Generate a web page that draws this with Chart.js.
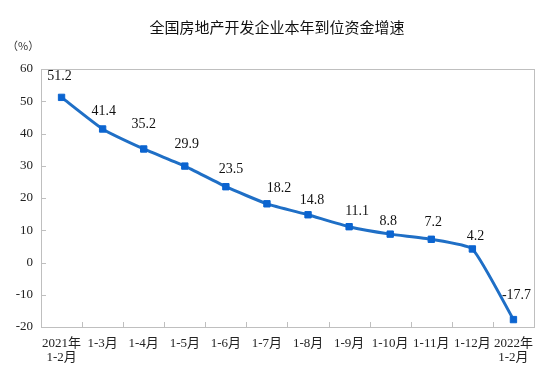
<!DOCTYPE html>
<html>
<head>
<meta charset="utf-8">
<script src="https://cdn.jsdelivr.net/npm/chart.js@4/dist/chart.umd.min.js"></script>
<style>
html,body{margin:0;padding:0;background:#fff;}
#wrap{width:554px;height:390px;position:relative;}
</style>
</head>
<body>
<div id="wrap"><canvas id="c" width="554" height="390"></canvas></div>
<script>
// ---- data ----
const categories = [["2021年","1-2月"],"1-3月","1-4月","1-5月","1-6月","1-7月","1-8月","1-9月","1-10月","1-11月","1-12月",["2022年","1-2月"]];
const growth = [51.2, 41.4, 35.2, 29.9, 23.5, 18.2, 14.8, 11.1, 8.8, 7.2, 4.2, -17.7];
const valueLabels = ["51.2","41.4","35.2","29.9","23.5","18.2","14.8","11.1","8.8","7.2","4.2","-17.7"];
const yTicks = [-20, -10, 0, 10, 20, 30, 40, 50, 60];
const chartTitle = "全国房地产开发企业本年到位资金增速";
const unitLabel = "（%）";
// label placement offsets (dx, dy) relative to each point
const labelDx = [-2, 1, 0, 2, 5, 12, 4, 8, -2, 2, 3, 3];
const labelDy = [-21, -18, -25, -22, -17, -15, -14, -15, -13, -17, -13, -24];

const AXIS_COLOR = '#bfbfbf';
const SERIF = '"Liberation Serif", "Noto Sans CJK SC", serif';

const framePlugin = {
  id: 'frame',
  beforeDatasetsDraw(chart) {
    const {ctx, chartArea: a, scales} = chart;
    ctx.save();
    ctx.strokeStyle = AXIS_COLOR;
    ctx.lineWidth = 1;
    ctx.strokeRect(Math.round(a.left) + 0.5, Math.round(a.top) + 0.5, Math.round(a.right - a.left), Math.round(a.bottom - a.top));
    // y ticks inward
    const ys = scales.y;
    ctx.beginPath();
    yTicks.forEach(v => {
      const py = Math.round(ys.getPixelForValue(v)) + 0.5;
      ctx.moveTo(a.left, py); ctx.lineTo(a.left + 5, py);
    });
    // x ticks inward at category boundaries
    const xs = scales.x;
    const n = categories.length;
    const w = (a.right - a.left) / n;
    for (let i = 1; i < n; i++) {
      const px = Math.round(xs.getPixelForValue(i) - w / 2) + 0.5;
      ctx.moveTo(px, a.bottom); ctx.lineTo(px, a.bottom - 5);
    }
    ctx.stroke();
    ctx.restore();
  },
  afterDraw(chart) {
    const {ctx} = chart;
    ctx.save();
    ctx.fillStyle = '#111';
    ctx.textAlign = 'center';
    ctx.textBaseline = 'middle';
    ctx.font = '15px "Noto Sans CJK SC", sans-serif';
    ctx.fillText(chartTitle, 277, 27);
    ctx.font = '11px "Noto Sans CJK SC", sans-serif';
    ctx.textAlign = 'left';
    ctx.fillStyle = '#333';
    ctx.fillText(unitLabel, 7, 46);
    // value labels
    const meta = chart.getDatasetMeta(0);
    ctx.font = '14px ' + SERIF;
    ctx.fillStyle = '#111';
    ctx.textAlign = 'center';
    meta.data.forEach((pt, i) => {
      ctx.fillText(valueLabels[i], pt.x + labelDx[i], pt.y + labelDy[i]);
    });
    ctx.restore();
  }
};

new Chart(document.getElementById('c'), {
  type: 'line',
  data: {
    labels: categories,
    datasets: [{
      data: growth,
      borderColor: '#1f6fc6',
      borderWidth: 3,
      pointStyle: 'rect',
      pointRadius: 4.5,
      pointBackgroundColor: '#0b64d0',
      pointBorderColor: '#0b64d0',
      pointBorderWidth: 1,
      tension: 0.15,
      fill: false
    }]
  },
  options: {
    responsive: false,
    animation: false,
    devicePixelRatio: 1,
    layout: {padding: {top: 69, right: 20, left: 0, bottom: 0}},
    plugins: {legend: {display: false}, title: {display: false}, tooltip: {enabled: false}},
    scales: {
      x: {
        offset: true,
        grid: {display: false, drawTicks: false},
        border: {display: false},
        afterFit(s) { s.height = 63; },
        ticks: {
          autoSkip: false, maxRotation: 0, minRotation: 0,
          padding: 9,
          color: '#222',
          font: {family: SERIF, size: 13, lineHeight: 1.1}
        }
      },
      y: {
        min: -20, max: 60,
        grid: {display: false, drawTicks: false},
        border: {display: false},
        afterFit(s) { s.width = 41; },
        afterBuildTicks(s) { s.ticks = yTicks.map(v => ({value: v})); },
        ticks: {
          stepSize: 10,
          padding: 8,
          color: '#222',
          font: {family: SERIF, size: 13}
        }
      }
    }
  },
  plugins: [framePlugin]
});
</script>
</body>
</html>
